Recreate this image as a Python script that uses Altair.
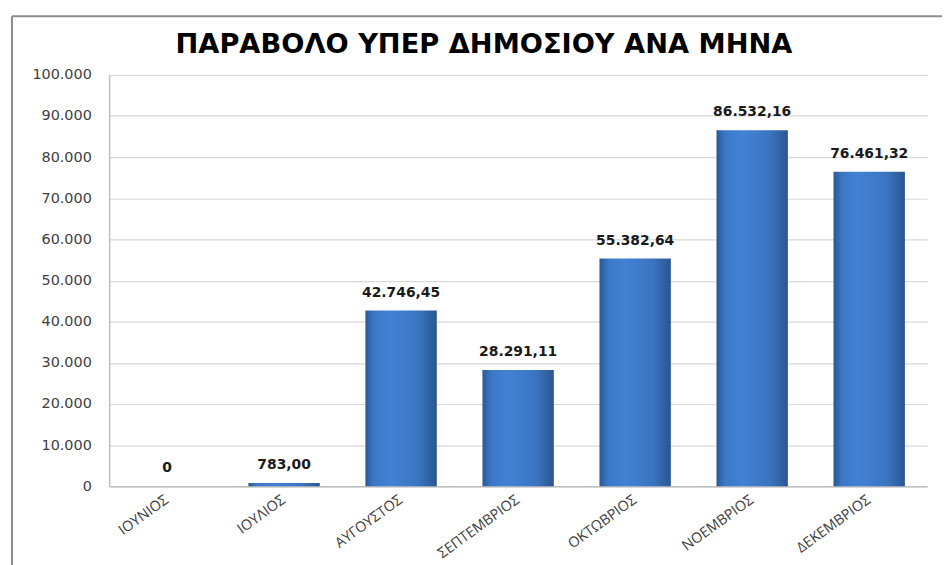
import altair as alt
import pandas as pd

months = ["ΙΟΥΝΙΟΣ", "ΙΟΥΛΙΟΣ", "ΑΥΓΟΥΣΤΟΣ", "ΣΕΠΤΕΜΒΡΙΟΣ", "ΟΚΤΩΒΡΙΟΣ", "ΝΟΕΜΒΡΙΟΣ", "ΔΕΚΕΜΒΡΙΟΣ"]
values = [0, 783.00, 42746.45, 28291.11, 55382.64, 86532.16, 76461.32]
labels = ["0", "783,00", "42.746,45", "28.291,11", "55.382,64", "86.532,16", "76.461,32"]
title_text = "ΠΑΡΑΒΟΛΟ ΥΠΕΡ ΔΗΜΟΣΙΟΥ ΑΝΑ ΜΗΝΑ"

df = pd.DataFrame({"month": months, "value": values, "label": labels})

W, H = 825, 415

x = alt.X("month:N", sort=months, title=None,
          scale=alt.Scale(paddingInner=0.39, paddingOuter=0.19),
          axis=alt.Axis(labelAngle=-36, labelAlign="right", labelBaseline="middle",
                        labelFont="Open Sans", labelFontSize=14.5, labelColor="#404040",
                        labelPadding=12, ticks=False, domainColor="#bfbfbf",
                        domainWidth=1.5, grid=False))
y = alt.Y("value:Q", title=None,
          scale=alt.Scale(domain=[0, 100000], nice=False),
          axis=alt.Axis(values=list(range(0, 100001, 10000)),
                        labelExpr="replace(format(datum.value, ',.0f'), ',', '.')",
                        labelFont="DejaVu Sans", labelFontSize=14.5, labelColor="#404040",
                        labelPadding=18, ticks=False, domainColor="#bfbfbf",
                        domainWidth=1.5, gridColor="#d9d9d9", gridWidth=1.2))

grad = alt.Gradient(
    gradient="linear", x1=0, x2=1, y1=0, y2=0,
    stops=[alt.GradientStop(color="#2b5894", offset=0),
           alt.GradientStop(color="#3b78c6", offset=0.12),
           alt.GradientStop(color="#4282d4", offset=0.35),
           alt.GradientStop(color="#3a74c0", offset=0.75),
           alt.GradientStop(color="#2a5690", offset=1)])

base = alt.Chart(df)

bars = base.mark_bar(fill=grad, cornerRadius=0).encode(x=x, y=y)

text = base.mark_text(dy=-11, baseline="bottom", font="DejaVu Sans",
                      fontWeight="bold", fontSize=14, color="#1a1a1a").encode(
    x=alt.X("month:N", sort=months), y="value:Q", text="label:N")

title = alt.Chart(pd.DataFrame({"t": [title_text]})).mark_text(
    font="DejaVu Sans", fontWeight="bold", fontSize=27.5, color="#000000",
    align="center", baseline="alphabetic").encode(
    x=alt.value(378), y=alt.value(-22), text="t:N")

frame_left = alt.Chart(pd.DataFrame({"a": [0]})).mark_rule(
    color="#8c8c8c", strokeWidth=2).encode(
    x=alt.value(-98), y=alt.value(-59), y2=alt.value(H + 120))
frame_top = alt.Chart(pd.DataFrame({"a": [0]})).mark_rule(
    color="#8c8c8c", strokeWidth=2).encode(
    x=alt.value(-98), x2=alt.value(W + 40), y=alt.value(-59))

chart = alt.layer(bars, text, title, frame_left, frame_top).properties(
    width=W, height=H,
    autosize=alt.AutoSizeParams(type="none"),
    padding={"left": 102, "top": 65, "right": 15, "bottom": 77},
    background="white",
).configure_view(stroke=None)

chart.save("out.html", embed_options={"renderer": "svg", "actions": False})
